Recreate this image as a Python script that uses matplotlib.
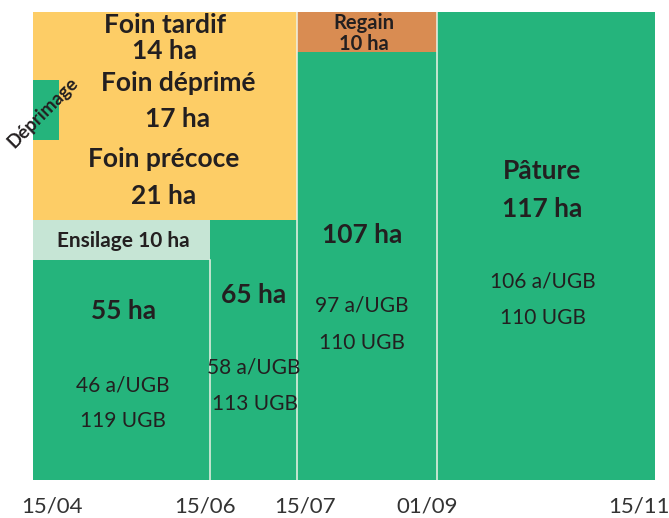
import datetime as dt
import matplotlib
matplotlib.use("Agg")
import matplotlib.pyplot as plt
import matplotlib.transforms as mtransforms
from matplotlib.patches import Rectangle

# Periods (dd/mm) and surfaces in ha
period_dates = ['15/04', '15/06', '15/07', '01/09', '15/11']
pature_ha = [55, 65, 107, 117]
ensilage_ha = [10, 0, 0, 0]
foin_ha = [52, 52, 0, 0]      # précoce 21 + déprimé 17 + tardif 14
regain_ha = [0, 0, 10, 0]
deprimage_dates = ['15/04', '24/04']
deprimage_ha = [85, 100]


def doy(s):
    d, m = s.split('/')
    return dt.date(2021, int(m), int(d)).timetuple().tm_yday


days = [doy(s) for s in period_dates]
lefts = days[:-1]
widths = [b - a for a, b in zip(days[:-1], days[1:])]

green = '#25b47c'
yellow = '#fdcd66'
orange = '#d98c52'
pale = '#c6e5d5'
txt = '#231f20'

plt.rcParams['font.family'] = ['Lato', 'DejaVu Sans']

fig = plt.figure(figsize=(6.69, 5.18), dpi=100)
ax = fig.add_axes([33 / 669, 38 / 518, 622 / 669, 468 / 518])

ax.bar(lefts, pature_ha, widths, align='edge', color=green, linewidth=0)
ax.bar(lefts, ensilage_ha, widths, bottom=pature_ha, align='edge', color=pale, linewidth=0)
bottom2 = [p + e for p, e in zip(pature_ha, ensilage_ha)]
ax.bar(lefts, foin_ha, widths, bottom=bottom2, align='edge', color=yellow, linewidth=0)
ax.bar(lefts, regain_ha, widths, bottom=pature_ha, align='edge', color=orange, linewidth=0)

# small déprimage block
d0, d1 = doy(deprimage_dates[0]), doy(deprimage_dates[1])
ax.add_patch(Rectangle((d0, deprimage_ha[0]), d1 - d0, deprimage_ha[1] - deprimage_ha[0],
                       color=green, linewidth=0))

# thin light separators between periods (hay block is continuous over 15/06)
sep_tops = [pature_ha[0], 117, 117]
for x, top in zip(days[1:-1], sep_tops):
    ax.plot([x, x], [0, top], color='#eef2e6', lw=1.1)

ax.set_xlim(days[0], days[-1])
ax.set_ylim(0, 117)

big = 19
bold = dict(ha='center', va='center', color=txt, fontweight='bold')
norm = dict(ha='center', va='center', color=txt, fontweight='normal', fontsize=15)

# Foin blocks
ax.text(150.4, 113.8, 'Foin tardif', fontsize=big, **bold)
ax.text(150.4, 107.3, '14 ha', fontsize=big, **bold)
ax.text(154.9, 99.3, 'Foin déprimé', fontsize=big, **bold)
ax.text(154.9, 90.3, '17 ha', fontsize=big, **bold)
ax.text(150.1, 80.3, 'Foin précoce', fontsize=big, **bold)
ax.text(150.1, 71.1, '21 ha', fontsize=big, **bold)
ax.text(108.4, 91.8, 'Déprimage', fontsize=13.5, rotation=45, clip_on=False, **bold)

# Ensilage + first pasture block
ax.text(136, 59.8, 'Ensilage 10 ha', fontsize=15, **bold)
ax.text(136, 42.3, '55 ha', fontsize=big, **bold)
ax.text(136, 23.5, '46 a/UGB', **norm)
ax.text(136, 14.8, '119 UGB', **norm)

# Second block
ax.text(181, 46.3, '65 ha', fontsize=big, **bold)
ax.text(181, 28, '58 a/UGB', **norm)
ax.text(181.3, 19, '113 UGB', **norm)

# Regain + third block
ax.text(218.9, 114.2, 'Regain', fontsize=14.5, **bold)
ax.text(218.9, 109.1, '10 ha', fontsize=14.5, **bold)
ax.text(218.2, 61.3, '107 ha', fontsize=big, **bold)
ax.text(218.2, 43.5, '97 a/UGB', **norm)
ax.text(218.2, 34.3, '110 UGB', **norm)

# Pâture
ax.text(280.1, 77.3, 'Pâture', fontsize=big, **bold)
ax.text(280.1, 67.8, '117 ha', fontsize=big, **bold)
ax.text(280.4, 49.5, '106 a/UGB', **norm)
ax.text(280.4, 40.5, '110 UGB', **norm)

# date labels under the boundaries (slightly shifted as in the original)
label_shift_px = [19, -5, 8, -10, -16]
base = mtransforms.blended_transform_factory(ax.transData, ax.transAxes)
for d, lab, dx in zip(days, period_dates, label_shift_px):
    tr = base + mtransforms.ScaledTranslation(dx / 100, 0, fig.dpi_scale_trans)
    ax.text(d, -0.057, lab, transform=tr, ha='center', va='center',
            fontsize=16, color='#333333', clip_on=False)

ax.set_xticks([])
ax.set_yticks([])
for s in ax.spines.values():
    s.set_visible(False)

fig.savefig('out.png', dpi=100)
